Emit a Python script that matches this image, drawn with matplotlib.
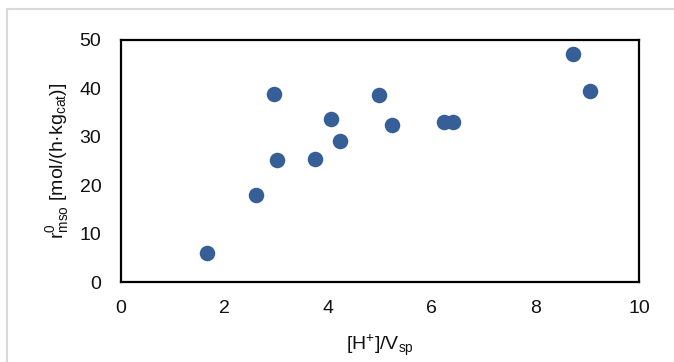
import matplotlib
matplotlib.use("Agg")
import matplotlib.pyplot as plt
from matplotlib.patches import Rectangle

plt.rcParams['font.family'] = ["Liberation Sans", "DejaVu Sans"]
plt.rcParams['mathtext.default'] = 'regular'

h_per_vsp = [1.66, 2.62, 2.96, 3.02, 3.75, 4.05, 4.24, 4.98, 5.24, 6.24, 6.42, 8.72, 9.06]
rate = [6.0, 18.0, 38.8, 25.3, 25.4, 33.6, 29.2, 38.5, 32.4, 33.1, 33.1, 47.0, 39.5]
xticks = [0, 2, 4, 6, 8, 10]
yticks = [0, 10, 20, 30, 40, 50]

W, H = 674, 362
fig = plt.figure(figsize=(W/100, H/100), dpi=100)
fig.patch.set_facecolor('white')
fig.patches.append(Rectangle((7/W, -0.1), 2, (H-9)/H + 0.1, transform=fig.transFigure,
                             fill=False, edgecolor='#d9d9d9', linewidth=1.5))

ax = fig.add_axes([120.7/W, 1-282.3/H, (639-120.7)/W, (282.3-39.7)/H])
ax.scatter(h_per_vsp, rate, s=125, color='#365f97', zorder=3, linewidths=0)
ax.set_xlim(0, 10)
ax.set_ylim(0, 50)
ax.set_xticks(xticks)
ax.set_yticks(yticks)
ax.tick_params(length=0, labelsize=14, colors='#111111')
ax.tick_params(axis='x', pad=13)
ax.tick_params(axis='y', pad=14)
for s in ax.spines.values():
    s.set_linewidth(1.6)
    s.set_color('black')
ax.set_xlabel('[H$^{+}$]/V$_{sp}$', fontsize=14, labelpad=11, color='#111111')
ax.set_ylabel('r$^{0}_{mso}$ [mol/(h·kg$_{cat}$)]', fontsize=14, labelpad=6, color='#111111')
fig.savefig('out.png', dpi=100)
